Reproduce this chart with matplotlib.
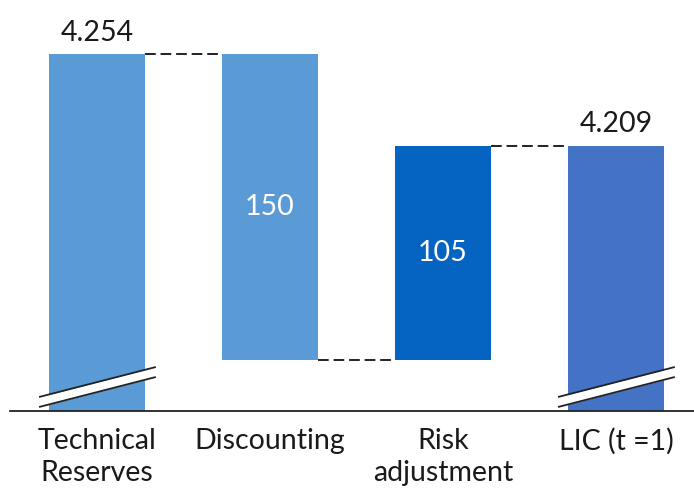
import numpy as np
import matplotlib
matplotlib.use('Agg')
import matplotlib.pyplot as plt

plt.rcParams['font.family'] = ['Lato', 'DejaVu Sans']

# Waterfall: technical reserves -> LIC (values in thousands, European separator)
categories = ['Technical\nReserves', 'Discounting', 'Risk\nadjustment', 'LIC (t =1)']
start_total = 4254
discounting = -150
risk_adj = 105
end_total = start_total + discounting + risk_adj   # 4209
colors = ['#5B9BD5', '#5B9BD5', '#0563C1', '#4472C4']

y_floor = 4079
y_top = 4280.5
bar_w = 0.555

fig = plt.figure(figsize=(6.94, 4.88), dpi=100)
ax = fig.add_axes([10 / 694, 77 / 488, 684 / 694, 411 / 488])
ax.set_xlim(-0.503, 3.451)
ax.set_ylim(y_floor, y_top)

after_disc = start_total + discounting
bottoms = [y_floor, after_disc, after_disc, y_floor]
tops = [start_total, start_total, after_disc + risk_adj, end_total]
x = np.arange(len(categories))

for xi, b, t, c in zip(x, bottoms, tops, colors):
    ax.bar(xi, t - b, bottom=b, width=bar_w, color=c, zorder=2)

# dashed connectors between bars
levels = [start_total, after_disc, after_disc + risk_adj]
for i, lv in enumerate(levels):
    ax.plot([x[i] + bar_w / 2, x[i + 1] - bar_w / 2], [lv, lv],
            ls=(0, (5.5, 2.5)), color='#222222', lw=1.4, zorder=3)

# labels
fs = 20.5
ax.text(x[0], start_total + 10.5, f'{start_total / 1000:.3f}', ha='center', va='center',
        fontsize=fs, color='#1a1a1a')
ax.text(x[3], end_total + 10.5, f'{end_total / 1000:.3f}', ha='center', va='center',
        fontsize=fs, color='#1a1a1a')
ax.text(x[1], (start_total + after_disc) / 2, f'{-discounting}', ha='center', va='center',
        fontsize=fs, color='white')
ax.text(x[2], after_disc + risk_adj / 2, f'{risk_adj}', ha='center', va='center',
        fontsize=fs, color='white')

# axis-break marks on the two totals
px = 1 / 2.04
for xi in (x[0], x[3]):
    xs = np.array([xi - 0.335, xi + 0.340])
    lo = np.array([y_floor + 4 * px, y_floor + 34 * px])
    hi = np.array([y_floor + 14 * px, y_floor + 44 * px])
    ax.fill_between(xs, lo, hi, color='white', zorder=4, lw=0)
    ax.plot(xs, lo, color='#222222', lw=1.3, zorder=5, solid_capstyle='butt')
    ax.plot(xs, hi, color='#222222', lw=1.3, zorder=5, solid_capstyle='butt')

for s in ['top', 'right', 'left']:
    ax.spines[s].set_visible(False)
ax.spines['bottom'].set_color('#222222')
ax.spines['bottom'].set_linewidth(1.3)
ax.spines['bottom'].set_zorder(6)
ax.set_yticks([])
ax.set_xticks(x)
ax.set_xticklabels(categories, fontsize=fs, color='#1a1a1a', linespacing=1.3)
ax.tick_params(axis='x', length=0, pad=12)

fig.savefig('out.png', dpi=100)
